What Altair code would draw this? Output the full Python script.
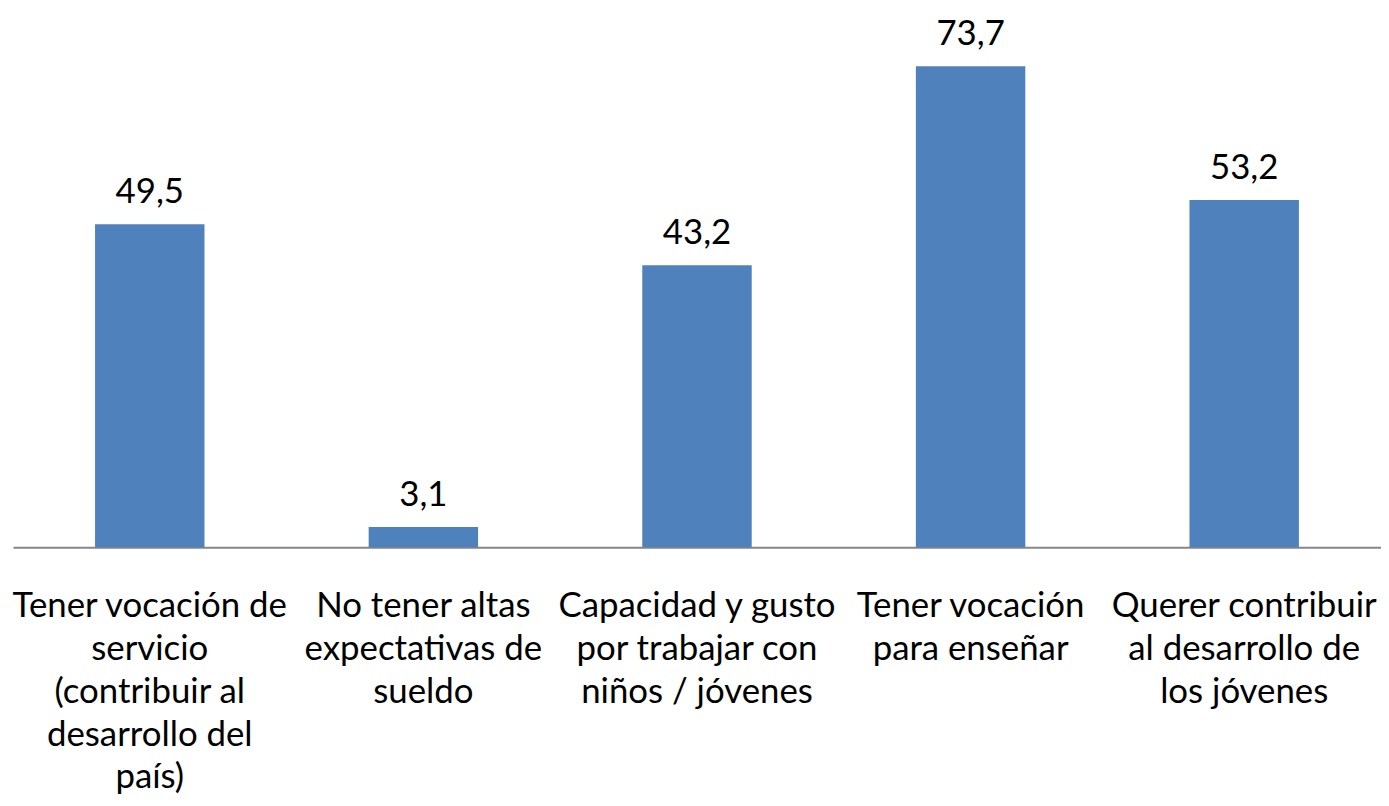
import altair as alt
import pandas as pd

categories = [
    "Tener vocación de|servicio|(contribuir al|desarrollo del|país)",
    "No tener altas|expectativas de|sueldo",
    "Capacidad y gusto|por trabajar con|niños / jóvenes",
    "Tener vocación|para enseñar",
    "Querer contribuir|al desarrollo de|los jóvenes",
]
values = [49.5, 3.1, 43.2, 73.7, 53.2]

df = pd.DataFrame({"cat": categories, "value": values})

FONT = "Lato"
FS = 35

base = alt.Chart(df).encode(
    x=alt.X(
        "cat:N",
        sort=None,
        title=None,
        scale=alt.Scale(paddingInner=0.6, paddingOuter=0.3),
        axis=alt.Axis(
            labelExpr="split(datum.label, '|')",
            labelAngle=0,
            labelFont=FONT,
            labelFontSize=FS,
            labelColor="#000000",
            labelLineHeight=43,
            labelPadding=42,
            labelBaseline="top",
            labelLimit=0,
            labelOverlap=False,
            ticks=False,
            domainColor="#868686",
            domainWidth=2,
            grid=False,
        ),
    ),
    y=alt.Y("value:Q", scale=alt.Scale(domain=[0, 80]), axis=None),
)

bars = base.mark_bar(color="#4F81BD")
text = base.transform_calculate(
    lbl="replace(format(datum.value, '.1f'), '.', ',')"
).mark_text(baseline="alphabetic", dy=-21, font=FONT, fontSize=FS, color="#000000").encode(
    text="lbl:N"
)

chart = (
    alt.layer(bars, text)
    .properties(
        width=1376,
        height=525,
        autosize=alt.AutoSizeParams(type="none"),
        padding={"left": 5, "top": 15, "right": 0, "bottom": 250},
        view=alt.ViewBackground(stroke=None, strokeWidth=0),
    )
    .configure_view(stroke=None, strokeWidth=0)
    .configure(background="#ffffff")
)

chart.save("out.html", embed_options={"renderer": "svg", "actions": False})
